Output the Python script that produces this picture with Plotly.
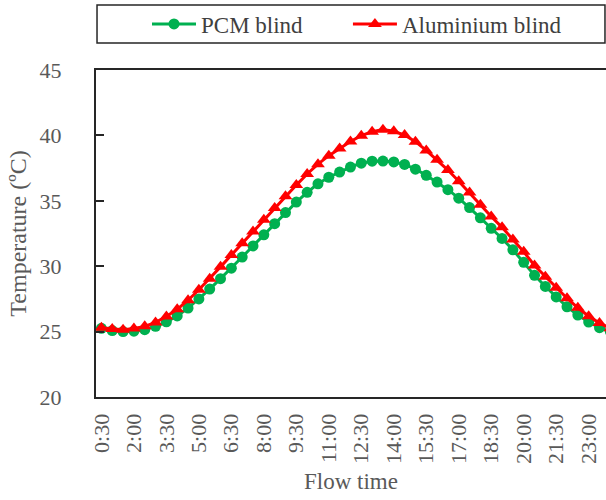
import plotly.graph_objects as go

times = ["0:30", "1:00", "1:30", "2:00", "2:30", "3:00", "3:30", "4:00", "4:30", "5:00",
         "5:30", "6:00", "6:30", "7:00", "7:30", "8:00", "8:30", "9:00", "9:30", "10:00",
         "10:30", "11:00", "11:30", "12:00", "12:30", "13:00", "13:30", "14:00", "14:30", "15:00",
         "15:30", "16:00", "16:30", "17:00", "17:30", "18:00", "18:30", "19:00", "19:30", "20:00",
         "20:30", "21:00", "21:30", "22:00", "22:30", "23:00", "23:30", "24:00"]

pcm_blind = [25.25, 25.08, 25.00, 25.03, 25.15, 25.40, 25.75, 26.20, 26.80, 27.50,
             28.25, 29.05, 29.85, 30.70, 31.55, 32.40, 33.25, 34.10, 34.90, 35.65,
             36.30, 36.80, 37.20, 37.58, 37.88, 38.03, 38.04, 37.97, 37.78, 37.42,
             36.95, 36.43, 35.85, 35.20, 34.48, 33.70, 32.90, 32.12, 31.25, 30.30,
             29.30, 28.45, 27.65, 26.90, 26.27, 25.73, 25.30, 25.00]

aluminium_blind = [25.30, 25.20, 25.15, 25.23, 25.40, 25.70, 26.15, 26.70, 27.40, 28.20,
                   29.05, 29.95, 30.85, 31.75, 32.65, 33.55, 34.45, 35.35, 36.20, 37.05,
                   37.80, 38.45, 39.00, 39.53, 39.98, 40.28, 40.44, 40.32, 40.03, 39.52,
                   38.85, 38.13, 37.35, 36.50, 35.63, 34.70, 33.80, 32.97, 32.05, 31.10,
                   30.05, 29.20, 28.35, 27.55, 26.82, 26.18, 25.65, 25.25]

tick_labels = ["0:30", "2:00", "3:30", "5:00", "6:30", "8:00", "9:30", "11:00",
               "12:30", "14:00", "15:30", "17:00", "18:30", "20:00", "21:30", "23:00"]

y_ticks = [20, 25, 30, 35, 40, 45]

FONT = "Liberation Serif"
GRAY = "#595959"
LEG = "#404040"
AXIS = "#262626"

fig = go.Figure()
fig.add_trace(go.Scatter(
    x=times, y=pcm_blind, name="PCM blind", mode="lines+markers",
    line=dict(color="#00B050", width=3),
    marker=dict(symbol="circle", size=11, color="#00B050"),
    legend="legend"))
fig.add_trace(go.Scatter(
    x=times, y=aluminium_blind, name="Aluminium blind", mode="lines+markers",
    line=dict(color="#FF0000", width=3),
    marker=dict(symbol="triangle-up", size=12, color="#FF0000"),
    legend="legend2"))

fig.update_layout(
    width=606, height=500,
    margin=dict(l=96, r=0, t=70, b=103, autoexpand=False),
    paper_bgcolor="white", plot_bgcolor="white",
    font=dict(family=FONT, color=GRAY, size=22),
    showlegend=True,
    legend=dict(x=0.10, y=1.1407, xanchor="left", yanchor="middle",
                orientation="h", itemwidth=44, bgcolor="rgba(0,0,0,0)",
                font=dict(family=FONT, size=23, color=LEG)),
    legend2=dict(x=0.494, y=1.1407, xanchor="left", yanchor="middle",
                 orientation="h", itemwidth=44, bgcolor="rgba(0,0,0,0)",
                 font=dict(family=FONT, size=23, color=LEG)),
    shapes=[dict(type="rect", xref="paper", yref="paper",
                 x0=0.002, x1=0.998, y0=(397 - 43) / 327, y1=(397 - 5) / 327,
                 line=dict(color=AXIS, width=1.5), fillcolor="rgba(0,0,0,0)")],
)

fig.update_xaxes(
    type="category", categoryorder="array", categoryarray=times,
    range=[-0.5, 46.6],
    tickmode="array", tickvals=tick_labels, ticktext=tick_labels,
    tickangle=-90, ticks="", showgrid=False, zeroline=False,
    showline=True, linecolor=AXIS, linewidth=2, mirror=True,
    ticklabelstandoff=6,
    tickfont=dict(family=FONT, size=22, color=GRAY),
    title=dict(text="Flow time", font=dict(family=FONT, size=23, color=GRAY), standoff=10),
)
fig.update_yaxes(
    range=[20, 45], tickmode="array", tickvals=y_ticks,
    ticks="inside", ticklen=8, tickwidth=1.5, tickcolor=AXIS,
    showgrid=False, zeroline=False,
    showline=True, linecolor=AXIS, linewidth=2, mirror=False,
    ticklabelstandoff=28,
    tickfont=dict(family=FONT, size=22, color=GRAY),
    title=dict(text="Temperature (ºC)", font=dict(family=FONT, size=24, color=GRAY), standoff=6),
)

fig.write_html("out.html")
